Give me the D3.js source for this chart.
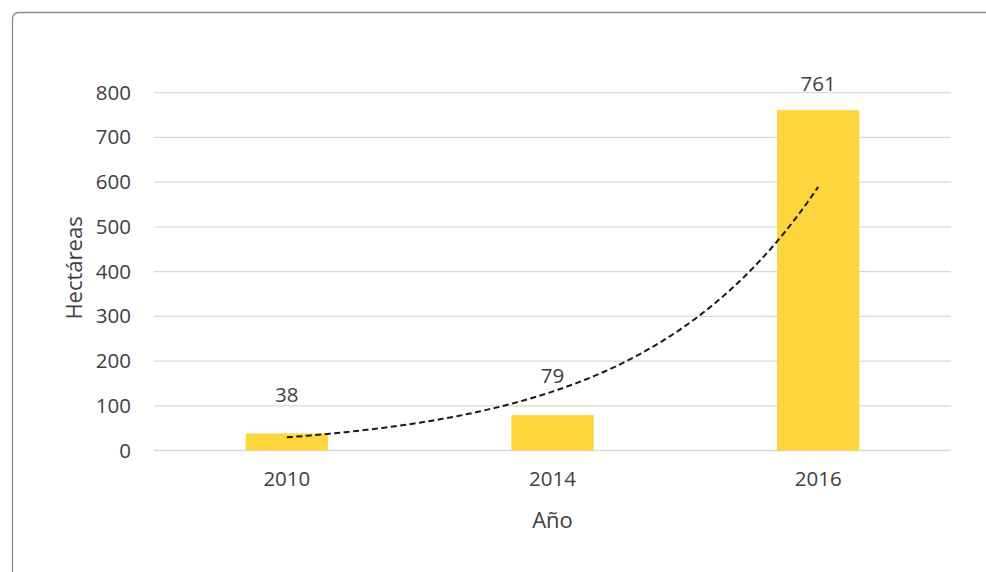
<!DOCTYPE html>
<html>
<head>
<meta charset="utf-8">
<script src="https://cdn.jsdelivr.net/npm/d3@7/dist/d3.min.js"></script>
<style>
  html, body { margin: 0; padding: 0; background: #fff; }
  svg { display: block; }
  text { font-family: "Open Sans", "Noto Sans", sans-serif; fill: #404040; }
</style>
</head>
<body>
<svg id="chart" width="986" height="572"></svg>
<script>
const categories = ["2010", "2014", "2016"];
const values = [38, 79, 761];
const yTicks = [0, 100, 200, 300, 400, 500, 600, 700, 800];
const yTitle = "Hectáreas";
const xTitle = "Año";

const W = 986, H = 572;
const margin = { left: 154, right: 35, top: 92.7, bottom: 121.5 };
const svg = d3.select("#chart");

// outer frame
svg.append("rect")
  .attr("x", 12.5).attr("y", 12.5)
  .attr("width", W + 20).attr("height", H + 20)
  .attr("rx", 6).attr("ry", 6)
  .attr("fill", "#fff").attr("stroke", "#8a8a8a").attr("stroke-width", 1.3);

const x = d3.scaleBand().domain(categories)
  .range([margin.left, W - margin.right]).paddingInner(0.69).paddingOuter(0.345);
const y = d3.scaleLinear().domain([0, 800]).range([H - margin.bottom, margin.top]);

// gridlines
svg.append("g").selectAll("line").data(yTicks).join("line")
  .attr("x1", margin.left).attr("x2", W - margin.right)
  .attr("y1", d => y(d)).attr("y2", d => y(d))
  .attr("stroke", "#d9d9d9").attr("stroke-width", 1.3);

// y axis labels
const yAxis = d3.axisLeft(y).tickValues(yTicks).tickSize(0).tickPadding(23);
const gy = svg.append("g").attr("transform", `translate(${margin.left},0)`).call(yAxis);
gy.select(".domain").remove();
gy.selectAll("text").style("font-size", "20.5px").attr("fill", "#404040")
  .style("font-family", '"Open Sans", sans-serif');

// bars
svg.append("g").selectAll("rect").data(values).join("rect")
  .attr("x", (d, i) => x(categories[i]))
  .attr("width", x.bandwidth())
  .attr("y", d => y(d))
  .attr("height", d => y(0) - y(d))
  .attr("fill", "#fed53c");

// x axis labels
const xAxis = d3.axisBottom(x).tickSize(0).tickPadding(21);
const gx = svg.append("g").attr("transform", `translate(0,${y(0)})`).call(xAxis);
gx.select(".domain").remove();
gx.selectAll("text").style("font-size", "20.5px").attr("fill", "#404040")
  .style("font-family", '"Open Sans", sans-serif');

// exponential trendline (least squares on ln y, x = 1..n)
const n = values.length;
const xs = values.map((d, i) => i + 1);
const ls = values.map(v => Math.log(v));
const mx = d3.mean(xs), ml = d3.mean(ls);
const b = d3.sum(xs.map((xi, i) => (xi - mx) * (ls[i] - ml))) / d3.sum(xs.map(xi => (xi - mx) ** 2));
const a = ml - b * mx;
const tx = d3.scaleLinear().domain([1, n])
  .range([x(categories[0]) + x.bandwidth() / 2, x(categories[n - 1]) + x.bandwidth() / 2]);
const pts = d3.range(1, n + 0.001, 0.02).map(t => [tx(t), y(Math.exp(a + b * t))]);
svg.append("path").attr("d", d3.line()(pts))
  .attr("fill", "none").attr("stroke", "#1a1a1a").attr("stroke-width", 2)
  .attr("stroke-dasharray", "6,3.5");

// data labels
svg.append("g").selectAll("text").data(values).join("text")
  .attr("x", (d, i) => x(categories[i]) + x.bandwidth() / 2)
  .attr("y", d => Math.max(y(d) - 32, margin.top - 1.5))
  .attr("text-anchor", "middle")
  .style("font-size", "20.5px")
  .text(d => d);

// axis titles
svg.append("text")
  .attr("transform", `translate(82, 268) rotate(-90)`)
  .attr("text-anchor", "middle")
  .style("font-size", "22px")
  .text(yTitle);
svg.append("text")
  .attr("x", (margin.left + W - margin.right) / 2)
  .attr("y", 527.5)
  .attr("text-anchor", "middle")
  .style("font-size", "22px")
  .text(xTitle);
</script>
</body>
</html>
